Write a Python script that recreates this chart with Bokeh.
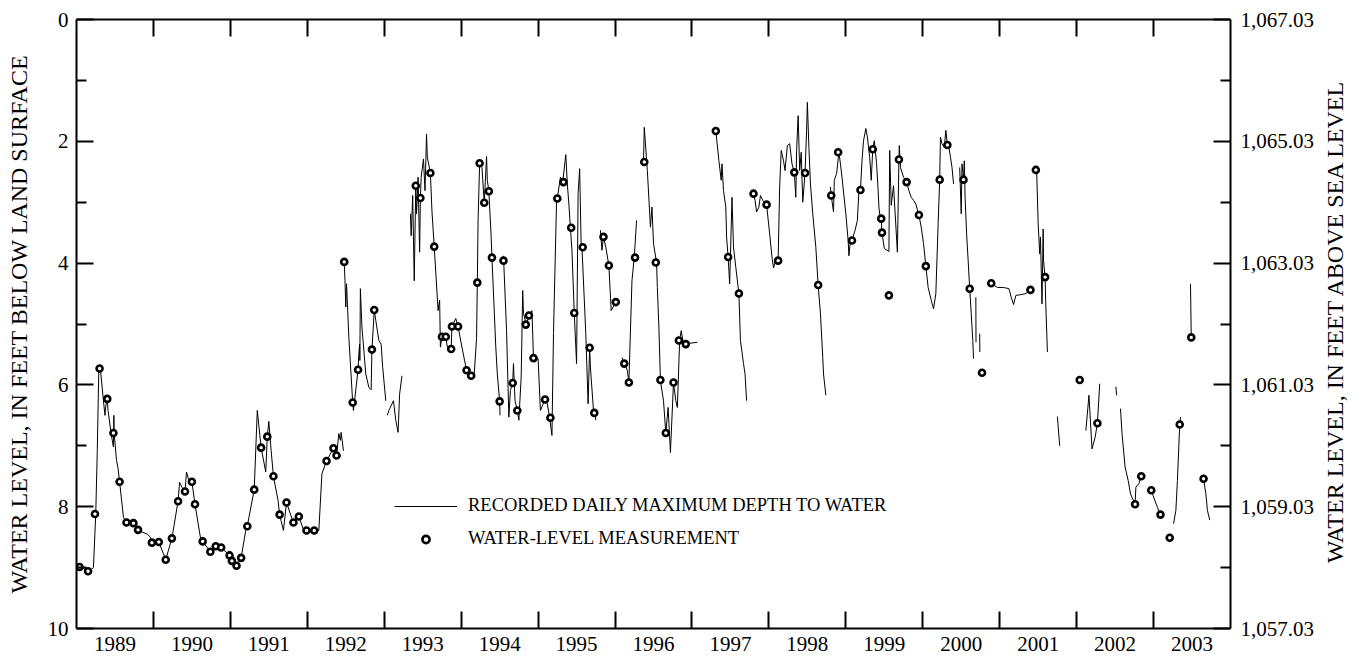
import math
import numpy as np
from bokeh.plotting import figure
from bokeh.models import (Range1d, LinearAxis, FixedTicker, NumeralTickFormatter,
                          Legend, LegendItem, ColumnDataSource)
from bokeh.embed import file_html
from bokeh.resources import INLINE

GAP = float("nan")
FONT = "Liberation Serif"

# ---------------- data ----------------
# recorded daily maximum depth to water (decimal year, feet below land surface); GAP = missing record
line_year = [
    1989.013, 1989.05, 1989.16, 1989.22, 1989.25, 1989.27, 1989.29, 1989.31, 1989.35, 1989.37,
    1989.38, 1989.40, 1989.41, 1989.45, 1989.48, 1989.485, 1989.49, 1989.52, 1989.54, 1989.56,
    1989.61, 1989.65, 1989.74, 1989.80, 1989.92, 1989.96, 1989.98, 1990.07, 1990.16, 1990.24,
    1990.32, 1990.34, 1990.37, 1990.41, 1990.43, 1990.46, 1990.50, 1990.54, 1990.61, 1990.64,
    1990.74, 1990.81, 1990.88, 1990.99, 1991.08, 1991.14, 1991.20, 1991.22, 1991.31, 1991.35,
    1991.40, 1991.46, 1991.48, 1991.50, 1991.53, 1991.56, 1991.62, 1991.64, 1991.69, 1991.73,
    1991.78, 1991.82, 1991.89, 1991.95, 1992.09, 1992.15, 1992.19, 1992.25, 1992.34, 1992.38,
    1992.41, 1992.43, 1992.44, 1992.47, GAP,
    1992.48, 1992.49, 1992.50, 1992.51, 1992.54, 1992.59, 1992.60, 1992.66, 1992.67, 1992.68,
    1992.683, 1992.69, 1992.71, 1992.76, 1992.80, 1992.83, 1992.84, 1992.86, 1992.87, 1992.89,
    1992.93, 1992.96, 1992.98, 1993.02, GAP,
    1993.04, 1993.06, 1993.12, 1993.15, 1993.18, 1993.20, 1993.23, GAP,
    1993.34, 1993.35, 1993.37, 1993.39, 1993.41, 1993.42, 1993.44, 1993.46, 1993.47, 1993.48,
    1993.51, 1993.53, 1993.55, 1993.56, 1993.60, 1993.62, 1993.65, 1993.70, 1993.72, 1993.73,
    1993.75, 1993.80, 1993.82, 1993.87, 1993.88, 1993.93, 1993.96, 1994.01, 1994.07, 1994.13,
    1994.17, 1994.20, 1994.21, 1994.22, 1994.24, 1994.27, 1994.30, 1994.33, 1994.34, 1994.36,
    1994.39, 1994.40, 1994.45, 1994.47, 1994.50, 1994.505, GAP,
    1994.55, 1994.59, 1994.62, 1994.64, 1994.67, 1994.68, 1994.70, 1994.73, 1994.75, 1994.78,
    1994.80, 1994.81, 1994.85, 1994.88, 1994.92, 1994.94, 1995.00, 1995.03, 1995.09, 1995.12,
    1995.15, 1995.18, 1995.20, 1995.24, 1995.25, 1995.29, 1995.32, 1995.36, 1995.38, 1995.40,
    1995.42, 1995.44, 1995.47, 1995.50, 1995.52, 1995.54, 1995.56, 1995.57, 1995.62, 1995.65,
    1995.67, 1995.68, 1995.72, 1995.74, 1995.75, GAP,
    1995.81, 1995.83, 1995.85, 1995.88, 1995.92, 1995.95, 1996.01, 1996.03, GAP,
    1996.09, 1996.12, 1996.16, 1996.18, 1996.22, 1996.25, 1996.28, GAP,
    1996.37, 1996.38, 1996.42, 1996.46, 1996.48, 1996.50, 1996.54, 1996.55, 1996.57, 1996.59,
    1996.63, 1996.66, 1996.69, 1996.72, 1996.76, 1996.79, 1996.81, 1996.84, 1996.86, 1996.89,
    1997.07, GAP,
    1997.31, 1997.35, 1997.38, 1997.39, 1997.41, 1997.44, 1997.45, 1997.47, 1997.49, 1997.51,
    1997.52, 1997.54, 1997.57, 1997.61, 1997.63, 1997.67, 1997.69, 1997.71, GAP,
    1997.77, 1997.80, 1997.82, 1997.84, 1997.87, 1997.89, 1997.92, 1997.97, 1998.01, 1998.04,
    1998.06, 1998.10, 1998.12, 1998.14, 1998.16, 1998.19, 1998.21, 1998.24, 1998.27, 1998.30,
    1998.33, 1998.35, 1998.36, 1998.38, 1998.40, 1998.42, 1998.44, 1998.47, 1998.49, 1998.50,
    1998.52, 1998.54, 1998.57, 1998.61, 1998.64, 1998.67, 1998.70, 1998.71, 1998.74, GAP,
    1998.80, 1998.81, 1998.84, 1998.85, 1998.88, 1998.91, 1998.93, 1998.95, 1999.00, 1999.03,
    1999.04, 1999.06, 1999.08, 1999.12, 1999.15, 1999.17, 1999.19, 1999.21, 1999.23, 1999.26,
    1999.28, 1999.31, 1999.33, 1999.35, 1999.37, 1999.40, 1999.42, 1999.43, 1999.45, 1999.46,
    1999.47, 1999.50, 1999.56, 1999.57, 1999.59, 1999.62, 1999.67, 1999.69, 1999.695, 1999.71,
    1999.75, 1999.79, 1999.82, 1999.85, 1999.88, 1999.91, 1999.95, 1999.98, 2000.01, 2000.04,
    2000.07, 2000.11, 2000.14, 2000.17, 2000.20, 2000.22, 2000.23, 2000.25, 2000.28, 2000.30,
    2000.32, 2000.34, 2000.36, 2000.38, 2000.40, GAP,
    2000.48, 2000.50, 2000.51, 2000.53, 2000.54, 2000.55, 2000.57, 2000.59, 2000.61, 2000.63,
    2000.65, 2000.66, GAP,
    2000.69, 2000.692, GAP,
    2000.74, 2000.742, GAP,
    2000.89, 2000.97, 2001.05, 2001.12, 2001.15, 2001.18, 2001.21, 2001.27, 2001.34, 2001.40, GAP,
    2001.48, 2001.50, 2001.52, 2001.53, 2001.55, 2001.565, 2001.57, 2001.59, 2001.60, 2001.62, GAP,
    2001.75, 2001.78, GAP,
    2002.12, 2002.16, 2002.20, 2002.24, 2002.27, 2002.30, GAP,
    2002.51, 2002.52, GAP,
    2002.57, 2002.59, 2002.63, 2002.67, 2002.70, 2002.76, 2002.77, 2002.81, 2002.84, GAP,
    2002.97, 2003.00, 2003.05, 2003.09, GAP,
    2003.26, 2003.29, 2003.31, 2003.34, 2003.35, GAP,
    2003.48, 2003.49, GAP,
    2003.65, 2003.68, 2003.70, 2003.73,
]
line_depth = [
    8.97, 8.99, 9.06, 9.00, 8.13, 7.08, 5.76, 5.73, 6.26, 6.50,
    6.35, 6.22, 6.42, 6.80, 7.02, 6.50, 6.80, 7.24, 7.37, 7.59,
    8.17, 8.26, 8.28, 8.39, 8.45, 8.50, 8.59, 8.58, 8.87, 8.52,
    7.91, 7.60, 7.68, 7.75, 7.43, 7.57, 7.59, 7.96, 8.50, 8.57,
    8.74, 8.65, 8.67, 8.80, 8.97, 8.84, 8.39, 8.32, 7.72, 6.42,
    7.03, 7.43, 6.85, 6.60, 7.08, 7.50, 7.90, 8.13, 8.39, 7.93,
    8.12, 8.26, 8.16, 8.38, 8.39, 8.39, 7.46, 7.25, 7.04, 7.16,
    6.80, 6.91, 6.78, 7.08, GAP,
    3.98, 4.29, 4.72, 4.34, 5.22, 6.29, 6.42, 5.75, 5.49, 5.33,
    5.60, 4.42, 5.05, 5.82, 6.04, 6.08, 5.42, 5.00, 4.77, 4.94,
    5.27, 5.33, 5.71, 6.26, GAP,
    6.50, 6.42, 6.26, 6.58, 6.78, 6.15, 5.85, GAP,
    3.19, 3.55, 2.89, 4.29, 2.73, 3.19, 2.59, 3.82, 2.93, 2.59,
    2.29, 2.81, 1.88, 2.26, 2.52, 3.14, 3.73, 4.78, 4.61, 5.38,
    5.21, 5.21, 5.38, 5.41, 5.04, 4.91, 5.04, 5.38, 5.76, 5.85,
    5.82, 5.24, 4.32, 3.30, 2.36, 2.43, 3.01, 2.25, 2.64, 2.82,
    3.57, 3.91, 5.38, 5.82, 6.27, 6.50, GAP,
    3.88, 5.11, 6.53, 6.09, 5.97, 5.65, 6.26, 6.42, 6.58, 5.87,
    4.45, 4.83, 5.01, 4.86, 4.78, 5.55, 5.57, 6.42, 6.24, 6.31,
    6.54, 6.83, 5.16, 2.97, 2.94, 2.59, 2.67, 2.22, 2.70, 3.03,
    3.42, 3.79, 4.82, 5.65, 2.86, 2.45, 3.74, 3.74, 5.16, 6.31,
    5.39, 5.71, 6.42, 6.46, 6.58, GAP,
    3.46, 3.79, 3.57, 3.74, 4.04, 4.78, 4.64, 4.61, GAP,
    5.55, 5.64, 5.76, 5.96, 4.29, 3.90, 3.30, GAP,
    2.34, 1.77, 2.48, 3.41, 3.08, 3.68, 3.99, 4.40, 5.05, 5.93,
    6.26, 6.79, 6.37, 7.11, 5.96, 6.26, 6.37, 5.26, 5.11, 5.33,
    5.30, GAP,
    1.83, 2.32, 2.64, 2.37, 2.81, 3.08, 3.57, 3.90, 4.34, 3.41,
    2.92, 3.74, 4.07, 4.50, 5.27, 5.65, 5.82, 6.26, GAP,
    2.81, 2.86, 2.97, 3.16, 3.08, 2.89, 2.97, 3.04, 3.52, 3.90,
    4.08, 3.90, 3.96, 2.75, 2.15, 2.32, 2.48, 2.07, 2.04, 2.37,
    2.51, 2.92, 2.15, 1.58, 2.48, 2.18, 3.00, 2.52, 1.82, 1.36,
    2.10, 2.70, 3.19, 3.74, 4.36, 4.83, 5.55, 5.82, 6.17, GAP,
    2.75, 2.89, 3.16, 2.64, 2.53, 2.18, 2.37, 2.59, 3.19, 3.63,
    3.88, 3.63, 3.63, 3.46, 3.30, 2.81, 2.80, 2.32, 1.99, 1.79,
    1.93, 2.26, 2.64, 2.13, 1.99, 2.37, 2.81, 3.08, 3.30, 3.27,
    3.50, 3.76, 3.81, 2.15, 3.05, 2.73, 3.82, 2.30, 2.07, 2.43,
    2.59, 2.67, 2.81, 2.92, 2.97, 3.03, 3.21, 3.41, 3.68, 4.05,
    4.40, 4.61, 4.75, 4.50, 3.35, 2.63, 1.93, 2.04, 2.10, 1.82,
    2.06, 2.10, 2.26, 2.43, 2.70, GAP,
    2.43, 3.19, 2.37, 2.63, 2.32, 2.92, 3.52, 3.96, 4.42, 4.83,
    5.27, 5.57, GAP,
    4.56, 5.30, GAP,
    5.16, 5.46, GAP,
    4.33, 4.40, 4.40, 4.42, 4.56, 4.68, 4.53, 4.52, 4.50, 4.44, GAP,
    2.47, 3.35, 3.85, 3.57, 4.67, 3.44, 3.96, 4.23, 4.72, 5.46, GAP,
    6.52, 7.00, GAP,
    6.75, 6.17, 7.05, 6.86, 6.63, 5.98, GAP,
    6.03, 6.17, GAP,
    6.39, 6.80, 7.35, 7.57, 7.79, 7.96, 7.68, 7.62, 7.50, GAP,
    7.73, 7.84, 8.01, 8.13, GAP,
    8.28, 8.06, 7.57, 6.65, 6.53, GAP,
    4.34, 5.22, GAP,
    7.54, 7.79, 8.06, 8.22,
]

# periodic water-level measurements (decimal year, feet below land surface)
meas_year = [
    1989.04, 1989.15, 1989.24, 1989.30, 1989.40, 1989.48, 1989.56, 1989.65, 1989.74, 1989.80,
    1989.98, 1990.07, 1990.16, 1990.24, 1990.32, 1990.41, 1990.50, 1990.54, 1990.64, 1990.74,
    1990.81, 1990.88, 1990.99, 1991.02, 1991.08, 1991.14, 1991.22, 1991.31, 1991.40, 1991.48,
    1991.56, 1991.64, 1991.73, 1991.82, 1991.89, 1991.99, 1992.09, 1992.25, 1992.34, 1992.38,
    1992.48, 1992.59, 1992.66, 1992.84, 1992.87, 1993.41, 1993.47, 1993.60, 1993.65, 1993.75,
    1993.80, 1993.87, 1993.88, 1993.96, 1994.07, 1994.13, 1994.21, 1994.24, 1994.30, 1994.36,
    1994.40, 1994.50, 1994.55, 1994.67, 1994.73, 1994.84, 1994.88, 1994.94, 1995.09, 1995.16,
    1995.25, 1995.33, 1995.43, 1995.47, 1995.58, 1995.67, 1995.73, 1995.85, 1995.92, 1996.01,
    1996.12, 1996.18, 1996.26, 1996.38, 1996.53, 1996.59, 1996.66, 1996.76, 1996.83, 1996.92,
    1997.31, 1997.47, 1997.61, 1997.80, 1997.97, 1998.12, 1998.33, 1998.47, 1998.64, 1998.81,
    1998.90, 1999.08, 1999.19, 1999.35, 1999.46, 1999.47, 1999.56, 1999.69, 1999.79, 1999.95,
    2000.04, 2000.22, 2000.32, 2000.53, 2000.61, 2000.77, 2000.89, 2001.40, 2001.47, 2001.59,
    2002.04, 2002.27, 2002.76, 2002.84, 2002.97, 2003.09, 2003.21, 2003.34, 2003.49, 2003.65,
]
meas_depth = [
    8.99, 9.06, 8.12, 5.73, 6.23, 6.79, 7.59, 8.26, 8.27, 8.38,
    8.59, 8.58, 8.87, 8.52, 7.91, 7.75, 7.59, 7.96, 8.57, 8.74,
    8.65, 8.67, 8.80, 8.89, 8.97, 8.84, 8.32, 7.72, 7.03, 6.85,
    7.50, 8.13, 7.93, 8.26, 8.16, 8.39, 8.39, 7.25, 7.04, 7.16,
    3.98, 6.29, 5.75, 5.42, 4.77, 2.73, 2.93, 2.52, 3.73, 5.21,
    5.21, 5.41, 5.04, 5.04, 5.76, 5.85, 4.32, 2.36, 3.01, 2.82,
    3.91, 6.27, 3.96, 5.97, 6.42, 5.01, 4.86, 5.56, 6.24, 6.54,
    2.94, 2.67, 3.42, 4.82, 3.74, 5.39, 6.46, 3.57, 4.04, 4.64,
    5.65, 5.96, 3.91, 2.34, 3.99, 5.92, 6.79, 5.96, 5.27, 5.33,
    1.83, 3.90, 4.50, 2.86, 3.04, 3.96, 2.51, 2.52, 4.36, 2.89,
    2.18, 3.63, 2.80, 2.13, 3.27, 3.50, 4.53, 2.30, 2.67, 3.21,
    4.05, 2.63, 2.06, 2.63, 4.42, 5.80, 4.33, 4.44, 2.47, 4.23,
    5.92, 6.63, 7.96, 7.50, 7.73, 8.13, 8.51, 6.65, 5.22, 7.54,
]

# axis ticks and labels
year_bounds = [1990, 1991, 1992, 1993, 1994, 1995, 1996, 1997, 1998, 1999, 2000, 2001, 2002, 2003]
year_mid = [1989.5, 1990.5, 1991.5, 1992.5, 1993.5, 1994.5, 1995.5, 1996.5, 1997.5,
            1998.5, 1999.5, 2000.5, 2001.5, 2002.5, 2003.5]
year_labels = ["1989", "1990", "1991", "1992", "1993", "1994", "1995", "1996", "1997",
               "1998", "1999", "2000", "2001", "2002", "2003"]
depth_major = [0, 2, 4, 6, 8, 10]
depth_minor = [1, 3, 5, 7, 9]
alt_major = [1057.03, 1059.03, 1061.03, 1063.03, 1065.03, 1067.03]
alt_minor = [1058.03, 1060.03, 1062.03, 1064.03, 1066.03]
left_title = "WATER LEVEL, IN FEET BELOW LAND SURFACE"
right_title_text = "WATER LEVEL, IN FEET ABOVE SEA LEVEL"

# ---------------- figure ----------------
p = figure(width=1370, height=660,
           x_range=Range1d(1989, 2004), y_range=Range1d(10, 0),
           output_backend="svg", toolbar_location=None,
           x_axis_location=None, y_axis_location=None,
           min_border_left=76, min_border_right=140, min_border_top=19, min_border_bottom=32)
p.extra_y_ranges = {"alt": Range1d(1057.03, 1067.03)}
p.xgrid.visible = False
p.ygrid.visible = False
p.outline_line_color = None
p.background_fill_color = "white"
p.border_fill_color = "white"


def style_axis(ax):
    ax.axis_line_color = "black"
    ax.axis_line_width = 2
    ax.major_tick_line_color = "black"
    ax.minor_tick_line_color = "black"
    ax.major_tick_line_width = 2
    ax.minor_tick_line_width = 2
    ax.major_tick_out = 0
    ax.minor_tick_out = 0
    ax.major_label_text_font = FONT
    ax.major_label_text_font_size = "21px"
    ax.major_label_text_color = "black"
    ax.axis_label_text_font = FONT
    ax.axis_label_text_font_size = "24px"
    ax.axis_label_text_font_style = "normal"
    ax.axis_label_text_color = "black"


bottom = LinearAxis(ticker=FixedTicker(ticks=year_mid, minor_ticks=year_bounds))
style_axis(bottom)
bottom.major_tick_line_color = None
bottom.minor_tick_in = 17
bottom.major_label_overrides = {m: lab for m, lab in zip(year_mid, year_labels)}
bottom.major_label_standoff = 8
p.add_layout(bottom, "below")

top = LinearAxis(ticker=FixedTicker(ticks=[], minor_ticks=year_bounds))
style_axis(top)
top.minor_tick_in = 17
top.major_label_standoff = 0
p.add_layout(top, "above")

left = LinearAxis(ticker=FixedTicker(ticks=depth_major, minor_ticks=depth_minor),
                  axis_label=left_title)
style_axis(left)
left.major_tick_in = 17
left.minor_tick_in = 10
left.major_label_standoff = 8
left.axis_label_standoff = 13
p.add_layout(left, "left")

right = LinearAxis(y_range_name="alt",
                   ticker=FixedTicker(ticks=alt_major, minor_ticks=alt_minor),
                   formatter=NumeralTickFormatter(format="0,0.00"))
style_axis(right)
right.major_tick_in = 17
right.minor_tick_in = 10
right.major_label_standoff = 10
p.add_layout(right, "right")

# title-only axis on the right: one unticked label, rotated to read bottom-to-top
TITLE_ANCHOR = 1058.1  # where the rotated title text begins (lower end)
right_title = LinearAxis(y_range_name="alt",
                         ticker=FixedTicker(ticks=[TITLE_ANCHOR], minor_ticks=[]))
style_axis(right_title)
right_title.axis_line_color = None
right_title.major_tick_line_color = None
right_title.major_tick_in = 0
right_title.major_label_text_font_size = "24px"
right_title.major_label_orientation = math.pi / 2
right_title.major_label_standoff = 18
right_title.major_label_overrides = {TITLE_ANCHOR: right_title_text}
p.add_layout(right_title, "right")

src_line = ColumnDataSource(dict(x=np.array(line_year, dtype=float),
                                 y=np.array(line_depth, dtype=float)))
r_line = p.line("x", "y", source=src_line, line_color="black", line_width=1)

src_meas = ColumnDataSource(dict(x=np.array(meas_year, dtype=float),
                                 y=np.array(meas_depth, dtype=float)))
r_meas = p.scatter("x", "y", source=src_meas, marker="circle", size=6,
                   line_color="black", line_width=2.6, fill_color="white")

legend = Legend(items=[LegendItem(label="RECORDED DAILY MAXIMUM DEPTH TO WATER", renderers=[r_line]),
                       LegendItem(label="WATER-LEVEL MEASUREMENT", renderers=[r_meas])],
                location=(318, 79), orientation="vertical",
                glyph_width=63, glyph_height=18, label_height=20, label_standoff=11,
                spacing=12, padding=0, margin=0,
                border_line_color=None, background_fill_alpha=0,
                label_text_font=FONT, label_text_font_size="18.5px", label_text_color="black")
p.add_layout(legend)

open("out.html", "w").write(file_html(p, INLINE))
